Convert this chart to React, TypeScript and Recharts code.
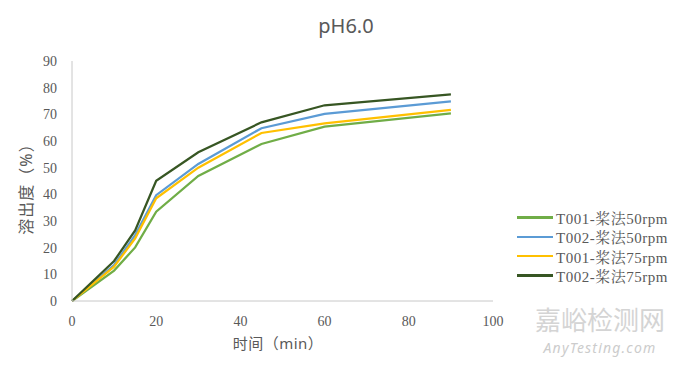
import React from 'react';
import { LineChart, Line, XAxis, YAxis, Legend, Customized } from 'recharts';

const times = [0, 10, 15, 20, 30, 45, 60, 90];
const t001_50 = [0, 11.4, 20.1, 33.5, 46.9, 58.9, 65.4, 70.4];
const t002_50 = [0, 13.5, 24.7, 39.7, 51.4, 64.8, 70.2, 74.9];
const t001_75 = [0, 12.9, 23.5, 38.5, 50.0, 63.0, 66.6, 71.7];
const t002_75 = [0, 15.0, 26.5, 45.1, 55.8, 67.0, 73.4, 77.5];

const seriesNames = ['T001-桨法50rpm', 'T002-桨法50rpm', 'T001-桨法75rpm', 'T002-桨法75rpm'];
const seriesKeys = ['s1', 's2', 's3', 's4'];
const seriesColors = ['#70ad47', '#5b9bd5', '#ffc000', '#375623'];
const seriesValues = [t001_50, t002_50, t001_75, t002_75];

const xTicks = [0, 20, 40, 60, 80, 100];
const yTicks = [0, 10, 20, 30, 40, 50, 60, 70, 80, 90];

const data = times.map((t, i) => {
  const row: Record<string, number> = { t };
  seriesKeys.forEach((k, j) => {
    row[k] = seriesValues[j][i];
  });
  return row;
});

const textColor = '#595959';
const serif = '"Liberation Serif", "Noto Serif CJK SC", "Noto Sans CJK SC", serif';
const sans = '"Noto Sans", "Noto Sans CJK SC", sans-serif';

const LegendContent = () => (
  <div style={{ fontFamily: serif, fontSize: 15, color: textColor, letterSpacing: 0.5 }}>
    {seriesNames.map((n, i) => (
      <div key={n} style={{ display: 'flex', alignItems: 'center', height: 19.3, whiteSpace: 'nowrap' }}>
        <div style={{ width: 36, height: 2.5, background: seriesColors[i], marginRight: 3 }} />
        <span>{n}</span>
      </div>
    ))}
  </div>
);

const XTick = (props: any) => {
  const { x, y, payload } = props;
  return (
    <text x={x} y={y} dy={10} textAnchor="middle" fontFamily='"Liberation Serif", serif' fontSize={14} fill={textColor}>
      {payload.value}
    </text>
  );
};

const YTick = (props: any) => {
  const { x, y, payload } = props;
  return (
    <text x={x} y={y} dy={5} textAnchor="end" fontFamily='"Liberation Serif", serif' fontSize={14} fill={textColor}>
      {payload.value}
    </text>
  );
};

const Extras = () => (
  <g>
    <text x={346} y={33} textAnchor="middle" fontFamily={sans} fontSize={20} fill={textColor}>pH6.0</text>
    <text x={278} y={349} textAnchor="middle" fontFamily={sans} fontSize={15} fill={textColor} letterSpacing={0.5}>时间（min）</text>
    <text
      x={26}
      y={185}
      textAnchor="middle"
      dominantBaseline="central"
      transform="rotate(-90 26 185)"
      fontFamily={sans}
      fontSize={16}
      fill={textColor}
      letterSpacing={1}
    >
      溶出度（%）
    </text>
    <text x={600} y={330} textAnchor="middle" fontFamily={sans} fontSize={26} fill="#d4d4d4">嘉峪检测网</text>
    <text x={600} y={353} textAnchor="middle" fontFamily={sans} fontSize={14} fontStyle="italic" fill="#cccccc" letterSpacing={1.2}>AnyTesting.com</text>
  </g>
);

export default function App() {
  return (
    <div style={{ position: 'absolute', left: 0, top: 0, width: 680, height: 369, background: '#fff' }}>
      <LineChart width={680} height={369} data={data} margin={{ top: 61, right: 187, bottom: 0, left: 0 }}>
        <XAxis
          dataKey="t"
          type="number"
          domain={[0, 100]}
          ticks={xTicks}
          tickSize={0}
          tickMargin={15}
          height={68}
          stroke="#c8c8c8"
          tick={<XTick />}
        />
        <YAxis
          type="number"
          domain={[0, 90]}
          ticks={yTicks}
          tickSize={0}
          tickMargin={15}
          width={72}
          stroke="#c8c8c8"
          tick={<YTick />}
        />
        {seriesKeys.map((k, i) => (
          <Line
            key={k}
            dataKey={k}
            name={seriesNames[i]}
            type="linear"
            stroke={seriesColors[i]}
            strokeWidth={2.25}
            dot={false}
            isAnimationActive={false}
          />
        ))}
        <Legend
          layout="vertical"
          align="center"
          verticalAlign="middle"
          content={<LegendContent />}
          wrapperStyle={{ left: 517, top: 208, width: 'auto', height: 'auto' }}
        />
        <Customized component={<Extras />} />
      </LineChart>
    </div>
  );
}
